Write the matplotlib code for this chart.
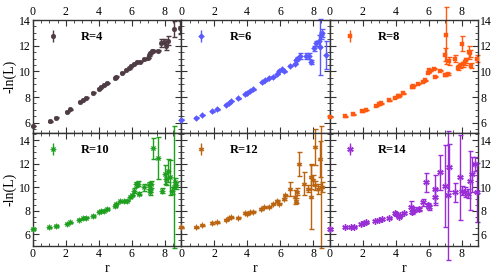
import numpy as np
import matplotlib
matplotlib.use("Agg")
import matplotlib.pyplot as plt
from matplotlib.ticker import MultipleLocator
from matplotlib.lines import Line2D
from matplotlib.container import ErrorbarContainer

plt.rcParams['font.family'] = 'serif'
plt.rcParams['font.serif'] = ['Liberation Serif', 'DejaVu Serif']

# R=4
r4 = [0.0, 1.03, 1.43, 2.04, 2.28, 2.85, 3.05, 3.2, 3.66, 4.02, 4.16, 4.3, 4.5, 4.97, 5.07,
      5.43, 5.67, 5.84, 5.98, 6.12, 6.34, 6.48, 6.73, 6.99, 7.05, 7.13, 7.23, 7.3, 7.6, 7.8,
      7.94, 8.06, 8.2, 8.55, 8.95]
v4 = [5.75, 6.1, 6.4, 6.85, 7.05, 7.65, 7.8, 7.95, 8.35, 8.65, 8.8, 8.95, 9.1, 9.5, 9.6,
      9.9, 10.1, 10.25, 10.45, 10.6, 10.75, 10.75, 10.95, 11.05, 11.25, 11.4, 11.55, 11.6, 11.6, 12.2,
      12.3, 12.0, 12.4, 13.3, 13.4]
e4 = [0.03] * 29 + [0.3, 0.2, 0.3, 0.35, 0.65, 0.5]

# R=6
r6 = [0.0, 0.87, 1.27, 1.88, 2.14, 2.69, 2.89, 3.03, 3.43, 3.84, 4.0, 4.16, 4.36, 4.9, 5.05,
      5.31, 5.58, 5.78, 5.92, 6.12, 6.22, 6.59, 6.87, 6.93, 7.03, 7.19, 7.54, 7.74, 7.88, 8.04,
      8.2, 8.34, 8.4, 8.48, 8.55, 8.8]
v6 = [6.25, 6.4, 6.6, 6.9, 7.05, 7.4, 7.55, 7.7, 7.9, 8.2, 8.35, 8.5, 8.6, 9.15, 9.3,
      9.5, 9.6, 9.8, 10.05, 10.15, 10.0, 10.45, 10.6, 10.85, 11.0, 11.2, 11.2, 11.2, 10.7, 11.8,
      12.2, 12.4, 11.9, 12.8, 13.0, 11.3]
e6 = [0.03] * 24 + [0.15, 0.2, 0.2, 0.2, 0.15, 0.2, 0.2, 0.4, 2.2, 0.3, 0.3, 1.1]

# R=8
r8 = [0.0, 0.95, 1.39, 1.96, 2.2, 2.83, 3.0, 3.13, 3.58, 3.98, 4.14, 4.22, 4.42, 4.99, 5.03,
      5.35, 5.64, 5.8, 5.96, 6.0, 6.1, 6.3, 6.36, 6.7, 6.97, 7.01, 7.05, 7.17, 7.25, 7.58,
      7.78, 7.92, 8.02, 8.08, 8.18, 8.26, 8.46, 8.5, 8.59, 8.93]
v8 = [6.45, 6.5, 6.65, 6.9, 7.0, 7.3, 7.45, 7.5, 7.75, 7.95, 8.05, 8.1, 8.3, 8.75, 8.9,
      9.05, 9.2, 9.3, 9.9, 10.1, 10.05, 10.2, 9.6, 10.05, 11.3, 9.75, 12.8, 9.8, 10.8, 11.0,
      10.3, 10.45, 12.15, 10.55, 10.7, 10.85, 11.5, 11.4, 10.45, 11.0]
e8 = [0.03] * 24 + [0.5, 0.1, 2.2, 0.1, 0.3, 0.3, 0.2, 0.2, 0.6, 0.2, 0.2, 0.2, 0.5, 0.3, 0.2, 0.3]

# R=10
r10 = [0.0, 0.99, 1.43, 2.04, 2.28, 2.81, 3.05, 3.21, 3.66, 4.02, 4.16, 4.3, 4.5, 4.97, 5.07,
       5.31, 5.52, 5.72, 5.92, 6.04, 6.12, 6.28, 6.36, 6.44, 6.73, 7.05, 7.09, 7.13, 7.19, 7.29,
       7.6, 7.86, 8.0, 8.1, 8.2, 8.3, 8.46, 8.55, 8.6, 8.67]
v10 = [6.45, 6.6, 6.7, 6.9, 7.0, 7.25, 7.35, 7.4, 7.55, 7.9, 7.95, 8.0, 8.15, 8.4, 8.6,
       8.8, 8.8, 8.85, 9.15, 9.3, 9.7, 10.25, 10.3, 9.45, 10.0, 10.15, 9.85, 9.55, 10.25, 13.3,
       12.5, 9.7, 11.1, 10.7, 11.4, 10.85, 9.7, 10.0, 10.4, 10.15]
e10 = [0.05] * 20 + [0.2, 0.2, 0.2, 0.15, 0.3, 0.3, 0.3, 0.2, 0.3, 0.9,
                     1.8, 0.2, 0.8, 0.5, 1.0, 1.5, 0.3, 5.2, 0.4, 0.3]

# R=12
r12 = [0.0, 0.87, 1.27, 1.88, 2.14, 2.69, 2.89, 3.03, 3.43, 3.84, 4.0, 4.16, 4.36, 4.85, 5.01,
       5.31, 5.58, 5.78, 5.92, 6.22, 6.32, 6.59, 6.87, 6.93, 7.03, 7.13, 7.43, 7.68, 7.84, 7.88,
       8.0, 8.08, 8.14, 8.28, 8.4, 8.45, 8.55]
v12 = [6.6, 6.6, 6.75, 6.95, 7.0, 7.25, 7.4, 7.45, 7.4, 7.8, 7.75, 7.85, 7.9, 8.15, 8.3,
       8.35, 8.6, 8.85, 8.6, 9.0, 9.3, 9.85, 9.15, 8.85, 9.6, 11.95, 10.3, 9.85, 10.85, 9.2,
       10.6, 13.4, 10.15, 9.85, 12.4, 10.0, 10.0]
e12 = [0.05] * 21 + [0.6, 0.6, 0.2, 0.3, 1.0, 1.0, 0.3, 1.0, 2.75,
                     0.4, 1.5, 0.4, 0.4, 1.5, 5.2, 0.4]

# R=14
r14 = [0.0, 0.95, 1.31, 1.45, 1.92, 2.06, 2.2, 2.77, 2.97, 3.17, 3.58, 3.94, 4.02, 4.18, 4.28,
       4.48, 4.95, 4.99, 5.09, 5.39, 5.64, 5.84, 5.96, 6.04, 6.36, 6.4, 6.7, 7.02, 7.15, 7.25,
       7.6, 7.92, 8.02, 8.18, 8.38, 8.53, 8.63, 8.83, 8.93]
v14 = [6.45, 6.6, 6.6, 6.65, 6.85, 6.95, 7.0, 7.15, 7.2, 7.3, 7.4, 7.8, 7.7, 7.5, 7.6,
       7.8, 8.3, 7.9, 8.1, 8.15, 8.7, 10.4, 8.45, 8.3, 9.15, 9.85, 11.25, 10.1, 9.3, 11.7,
       9.55, 10.85, 9.7, 9.6, 9.45, 10.55, 11.1, 11.95, 9.55]
e14 = [0.05] * 16 + [0.5, 0.2, 0.2, 0.2, 0.3, 0.8, 0.2, 0.2, 0.7, 1.2, 1.5, 3.5, 5.5, 2.0,
                     0.8, 3.6, 0.4, 0.4, 0.4, 2.5, 1.5, 0.6, 2.5]

labels = ["R=4", "R=6", "R=8", "R=10", "R=12", "R=14"]
rs = [r4, r6, r8, r10, r12, r14]
vs = [v4, v6, v8, v10, v12, v14]
es = [e4, e6, e8, e10, e12, e14]
colors = ["#4e3b44", "#5a5aff", "#ff5a0f", "#1ea01e", "#bb6410", "#9a2ed6"]
markers = ["o", "D", "s", (8, 1, 0), (6, 1, 0), (6, 2, 0)]
sizes = [3.4, 3.0, 3.2, 4.4, 4.4, 4.6]

fig, axes = plt.subplots(2, 3, figsize=(4.98, 2.78), dpi=100)
fig.subplots_adjust(left=0.066, right=0.96, top=0.928, bottom=0.115, wspace=0, hspace=0)

for idx, ax in enumerate(axes.flat):
    row, colidx = divmod(idx, 3)
    col, mk, ms = colors[idx], markers[idx], sizes[idx]
    mew = 1.0 if mk == (6, 2, 0) else 0.3

    # error bars are not clipped, long ones run into the next panel
    cont = ax.errorbar(rs[idx], vs[idx], yerr=es[idx], fmt='none', ecolor=col,
                       elinewidth=1.0, capsize=1.8, capthick=1.0, zorder=2)
    for art in cont.lines[1] + cont.lines[2]:
        art.set_clip_on(False)
    ax.plot(rs[idx], vs[idx], linestyle='none', marker=mk, color=col, ms=ms,
            mew=mew, zorder=3, clip_on=False)

    handle = ErrorbarContainer(
        (Line2D([], [], linestyle='none', marker=mk, color=col, ms=ms, mew=mew),
         None, cont.lines[2]), has_xerr=False, has_yerr=True)
    ax.legend([handle], [labels[idx]], loc='upper left', bbox_to_anchor=(0.034, 1.0),
              frameon=False, handlelength=0.6, handletextpad=1.95,
              borderaxespad=0.3, borderpad=0.6,
              prop={'weight': 'bold', 'size': 9})

    ax.set_xlim(0, 9)
    if row == 0:
        ax.set_ylim(5.2, 14)
    else:
        ax.set_ylim(5.0, 14.6)
    ax.xaxis.set_major_locator(MultipleLocator(2))
    ax.xaxis.set_minor_locator(MultipleLocator(0.5))
    ax.yaxis.set_major_locator(MultipleLocator(2))
    ax.yaxis.set_minor_locator(MultipleLocator(0.5))
    ax.tick_params(which='both', direction='in', top=True, bottom=True, left=True, right=True,
                   labelsize=8.5, color='#333333', pad=1.5)
    ax.tick_params(which='major', length=4, width=0.8)
    ax.tick_params(which='minor', length=2, width=0.6)
    ax.tick_params(labeltop=(row == 0), labelbottom=(row == 1),
                   labelleft=(colidx == 0), labelright=(colidx == 2))
    for sp in ax.spines.values():
        sp.set_linewidth(1.0)
        sp.set_color('#333333')
    if colidx == 0:
        ax.set_ylabel('-ln(L)', fontsize=10, labelpad=2)
    if row == 1:
        ax.set_xlabel('r', fontsize=10, labelpad=1)

fig.savefig("out.png", dpi=100)
